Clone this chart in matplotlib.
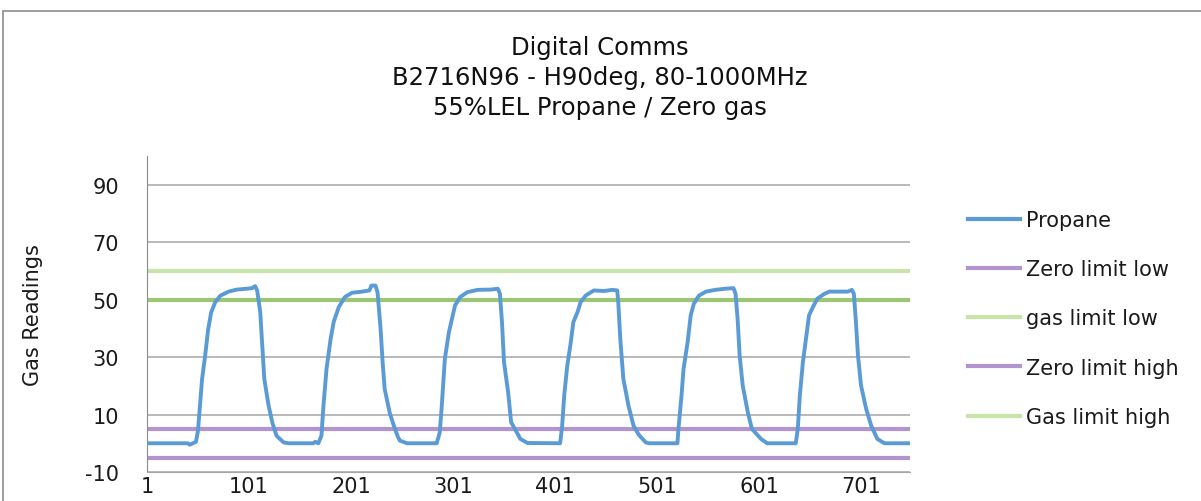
import matplotlib
matplotlib.use("Agg")
import matplotlib.pyplot as plt
from matplotlib.lines import Line2D
from matplotlib.patches import Rectangle

plt.rcParams["axes.unicode_minus"] = False

# Propane trace (sample index, %LEL)
propane_x = [1, 41, 43, 46, 49, 51, 55, 58, 61, 64, 68, 73, 81, 89, 99, 104, 107, 109,
             112, 114, 116, 120, 124, 128, 135, 140,
             164, 166, 169, 172, 174, 177, 181, 184, 189, 195, 202, 212, 219, 221, 225,
             227, 230, 232, 234, 239, 243, 247, 249, 256,
             285, 288, 290, 293, 297, 300, 303, 308, 315, 325, 338, 345, 347, 349, 351,
             355, 358, 364, 367, 374,
             406, 408, 410, 413, 416, 419, 423, 426, 431, 439, 449, 457, 462, 463, 465,
             468, 473, 478, 483, 490, 493,
             521, 522, 525, 527, 531, 534, 537, 542, 549, 558, 568, 576, 578, 580, 582,
             585, 590, 594, 603, 609,
             637, 639, 641, 644, 647, 650, 653, 658, 665, 670, 688, 692, 694, 696, 698,
             701, 706, 711, 717, 724, 748]
propane_y = [0, 0, -0.5, 0, 0.5, 4.4, 22.4, 30.5, 39.8, 45.7, 49.2, 51.4, 52.8, 53.5, 53.8, 54.0, 54.7, 53.2,
             45.7, 34.0, 22.4, 13.5, 7.0, 2.6, 0.3, 0,
             0, 0.5, 0, 2.6, 13.1, 25.9, 36.3, 42.2, 47.4, 50.9, 52.4, 52.8, 53.2, 54.9, 54.9,
             52.6, 39.8, 28.2, 18.9, 10.5, 6.1, 2.2, 0.9, 0,
             0, 3.8, 13.1, 29.4, 38.7, 43.3, 48.0, 50.9, 52.6, 53.4, 53.5, 53.8, 52.0, 42.2, 28.2,
             17.8, 7.3, 3.5, 1.5, 0.1,
             0, 6.1, 16.6, 27.0, 34.0, 42.2, 45.6, 49.1, 51.4, 53.2, 53.0, 53.4, 53.2, 49.1, 36.3,
             22.4, 13.1, 6.1, 3.0, 0.3, 0,
             0, 5.0, 16.6, 25.9, 35.2, 44.5, 48.5, 51.4, 52.8, 53.4, 53.8, 54.0, 52.0, 43.3, 30.5,
             20.1, 10.8, 5.0, 1.5, 0,
             0, 5.0, 16.6, 28.2, 36.3, 44.5, 46.8, 50.3, 52.0, 52.8, 52.8, 53.4, 52.0, 42.2, 30.5,
             20.1, 12.0, 6.1, 1.5, 0, 0]

# limit series (constant levels)
zero_limit_low = -5
gas_limit_low = 50
zero_limit_high = 5
gas_limit_high = 60

y_ticks = [-10, 10, 30, 50, 70, 90]
x_ticks = [1, 101, 201, 301, 401, 501, 601, 701]

titles = ["Digital Comms", "B2716N96 - H90deg, 80-1000MHz", "55%LEL Propane / Zero gas"]
legend_labels = ["Propane", "Zero limit low", "gas limit low", "Zero limit high", "Gas limit high"]

blue = "#5b9bd5"
purple = "#b394cf"
light_green = "#c8e4a8"
dark_green = "#9cc673"
grid_grey = "#a6a6a6"
txt = "#1a1a1a"

W, H = 1201, 502
fig = plt.figure(figsize=(W / 100, H / 100), dpi=100)
fig.patch.set_facecolor("white")

# chart frame (cut off at right and bottom)
fig.patches.append(Rectangle((3 / W, -0.2), 1.2, (H - 12) / H + 0.2,
                             transform=fig.transFigure, fill=False,
                             edgecolor="#8c8c8c", lw=1.2))

ax = fig.add_axes([147 / W, 1 - 473 / H, (910 - 147) / W, (473 - 157) / H])

ax.set_xlim(1, 749)
ax.set_ylim(-10, 100)
ax.set_yticks(y_ticks)
ax.set_xticks(x_ticks)
ax.yaxis.grid(True, color=grid_grey, lw=1.1)
ax.set_axisbelow(True)
ax.tick_params(length=0, labelsize=15, labelcolor=txt)
ax.tick_params(axis="y", pad=20)
ax.tick_params(axis="x", pad=3)

for s in ["top", "right"]:
    ax.spines[s].set_visible(False)
ax.spines["left"].set_color("#8c8c8c")
ax.spines["bottom"].set_color(grid_grey)

ax.axhline(zero_limit_low, color=purple, lw=3, zorder=2)
ax.axhline(gas_limit_low, color=dark_green, lw=3, zorder=2)
ax.axhline(zero_limit_high, color=purple, lw=3, zorder=2)
ax.axhline(gas_limit_high, color=light_green, lw=3, zorder=2)
ax.plot(propane_x, propane_y, color=blue, lw=2.8, zorder=3, solid_joinstyle="round")

fig.text(600 / W, 1 - 78 / H, "\n".join(titles), ha="center", va="center",
         fontsize=17.5, linespacing=1.3, color="#111111")

fig.text(33 / W, 1 - 315 / H, "Gas Readings", rotation=90, ha="center", va="center",
         fontsize=15, color=txt)

handles = [Line2D([], [], color=c, lw=3)
           for c in [blue, purple, light_green, purple, light_green]]
leg = fig.legend(handles, legend_labels, loc="center left",
                 bbox_to_anchor=(968 / W, 1 - 319.5 / H), frameon=False,
                 prop={"size": 15}, handlelength=2.5,
                 handletextpad=0.3, labelspacing=1.4, borderpad=0, borderaxespad=0)
for t in leg.get_texts():
    t.set_color(txt)

fig.savefig("out.png", dpi=100, facecolor="white")
